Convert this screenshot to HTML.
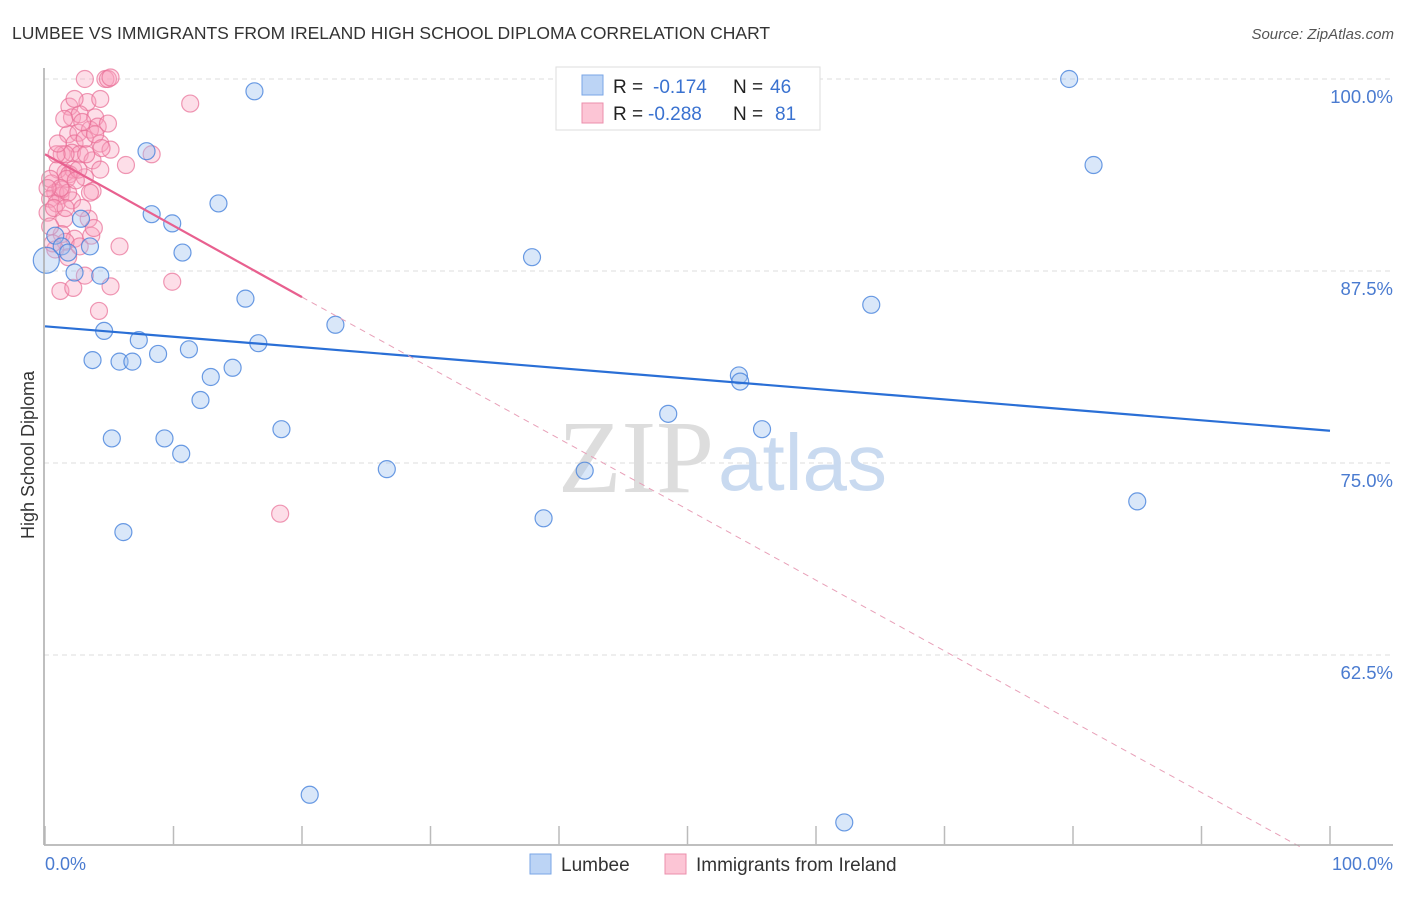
<!DOCTYPE html>
<html><head><meta charset="utf-8"><style>
body{margin:0;background:#fff;font-family:"Liberation Sans",sans-serif;}
svg text{font-family:"Liberation Sans",sans-serif;}
</style></head><body>
<svg width="1406" height="892" viewBox="0 0 1406 892" xmlns="http://www.w3.org/2000/svg">
<text x="12" y="39" font-size="17.5" fill="#333">LUMBEE VS IMMIGRANTS FROM IRELAND HIGH SCHOOL DIPLOMA CORRELATION CHART</text>
<text x="1394" y="39" font-size="15" fill="#555" font-style="italic" text-anchor="end">Source: ZipAtlas.com</text>
<g id="grid"></g>
<text x="714" y="492" font-size="104" fill="#ddd" text-anchor="end" style="font-family:'Liberation Serif',serif">ZIP</text>
<text x="718" y="490" font-size="80" fill="#c9daf0">atlas</text>
<g id="pts"></g>
<g id="trend"></g>
<line x1="44" y1="68" x2="44" y2="845" stroke="#aaa" stroke-width="1.5"/>
<line x1="44" y1="845" x2="1393" y2="845" stroke="#aaa" stroke-width="1.5"/>
<g id="xt"></g>
<text x="45" y="870" font-size="18" fill="#4a7bd0">0.0%</text>
<text x="1393" y="870" font-size="18" fill="#4a7bd0" text-anchor="end">100.0%</text>
<text x="34" y="455" font-size="18" fill="#333" text-anchor="middle" transform="rotate(-90 34 455)">High School Diploma</text>
<g>
<rect x="556" y="67" width="264" height="63" fill="#fff" stroke="#ddd"/>
<rect x="582" y="75" width="21" height="20" fill="#bcd4f5" stroke="#7aa6e6"/>
<rect x="582" y="103" width="21" height="20" fill="#fcc5d5" stroke="#eb8fac"/>
<text x="613" y="93" font-size="19" fill="#222">R = </text><text x="653" y="93" font-size="19" fill="#3a72d0">-0.174</text>
<text x="733" y="93" font-size="19" fill="#222">N = </text><text x="770" y="93" font-size="19" fill="#3a72d0">46</text>
<text x="613" y="120" font-size="19" fill="#222">R = </text><text x="648" y="120" font-size="19" fill="#3a72d0">-0.288</text>
<text x="733" y="120" font-size="19" fill="#222">N = </text><text x="775" y="120" font-size="19" fill="#3a72d0">81</text>
</g>
<g><rect x="530" y="854" width="21" height="20" fill="#bcd4f5" stroke="#7aa6e6"/><text x="561" y="871" font-size="19" fill="#333">Lumbee</text></g>
<g><rect x="665" y="854" width="21" height="20" fill="#fcc5d5" stroke="#eb8fac"/><text x="696" y="871" font-size="19" fill="#333">Immigrants from Ireland</text></g>
</svg>
<script>
const yTicks=[100,87.5,75,62.5];
const yTickLabels=["100.0%","87.5%","75.0%","62.5%"];
const xTicks=[0,10,20,30,40,50,60,70,80,90,100];
const lumbeeX=[16.3,79.7,81.6,7.9,8.3,13.5,9.9,2.8,0.8,1.3,3.5,1.8,10.7,0.1,2.3,4.3,37.9,15.6,64.3,22.6,4.6,7.3,16.6,11.2,3.7,5.8,6.8,8.8,14.6,12.9,54.0,54.1,12.1,48.5,18.4,55.8,5.2,9.3,10.6,26.6,42.0,85.0,38.8,6.1,20.6,62.2];
const lumbeeY=[99.2,100,94.4,95.3,91.2,91.9,90.6,90.9,89.8,89.1,89.1,88.7,88.7,88.2,87.4,87.2,88.4,85.7,85.3,84.0,83.6,83.0,82.8,82.4,81.7,81.6,81.6,82.1,81.2,80.6,80.7,80.3,79.1,78.2,77.2,77.2,76.6,76.6,75.6,74.6,74.5,72.5,71.4,70.5,53.4,51.6];
const irelandX=[3.1,4.7,4.9,11.3,1.9,3.3,4.3,2.1,2.7,3.9,1.8,2.6,3.5,4.1,4.9,2.3,3.1,4.3,5.1,1.3,2.1,2.7,3.7,6.3,8.3,1.6,2.2,1.0,1.9,3.1,3.7,0.5,0.8,1.2,1.3,0.4,0.9,0.2,0.7,1.5,3.4,1.3,2.3,3.6,1.6,5.8,0.8,3.1,1.2,2.2,5.1,9.9,4.2,18.3,0.4,1.7,2.6,1.6,2.9,3.9,3.2,0.9,2.1,0.4,1.8,3.5,0.6,2.4,4.3,1.2,3.8,2.9,1.5,2.3,5.1,1.0,0.2,1.8,2.7,4.4,1.6];
const irelandY=[100,100,100,98.4,98.2,98.5,98.7,97.5,97.7,97.5,96.4,96.5,96.7,96.9,97.1,95.8,96.1,95.8,95.4,95.1,95.2,95.1,94.7,94.4,95.1,93.9,94.1,94.1,93.8,93.6,92.7,93.2,92.6,92.4,92.8,92.2,91.9,91.3,91.6,90.9,90.9,89.9,89.6,89.8,89.4,89.1,88.9,87.2,86.2,86.4,86.5,86.8,84.9,71.7,93.5,93.5,94.1,95.1,97.2,96.4,95.1,95.1,92.1,90.4,92.6,92.6,89.3,93.4,94.1,92.9,90.3,91.6,97.4,98.7,100.1,95.8,92.9,88.4,89.1,95.5,91.6];
const blueTrend=[[0,83.9],[100,77.1]];
const pinkTrend=[[0,95.1],[20,85.8],[97.7,50.0]];
const X=v=>45+v*12.85, Y=v=>79+(100-v)*15.36;
const NS="http://www.w3.org/2000/svg";
function mk(t,a,p){const e=document.createElementNS(NS,t);for(const k in a)e.setAttribute(k,a[k]);p.appendChild(e);return e;}
const grid=document.getElementById('grid');
yTicks.forEach((t,i)=>{
 const l=mk('line',{x1:44,x2:1393,y1:Y(t),y2:Y(t),stroke:'#ddd','stroke-dasharray':'5,4'},grid);
 
 
 const tx=mk('text',{x:1393,y:Y(t)+24,'font-size':18.5,fill:'#4a7bd0','text-anchor':'end'},grid);
 tx.textContent=yTickLabels[i];
 
 
});
const xt=document.getElementById('xt');
xTicks.forEach(t=>{
 const l=mk('line',{x1:X(t),x2:X(t),y1:826,y2:845,stroke:'#bbb','stroke-width':1.5},xt);
 
 
});
const pts=document.getElementById('pts');
irelandX.forEach((x,i)=>{
 const c=mk('circle',{cx:X(x),cy:Y(irelandY[i]),r:8.5,fill:'rgba(248,160,188,0.35)',stroke:'rgba(232,110,150,0.7)','stroke-width':1.2},pts);
 
 
});
lumbeeX.forEach((x,i)=>{
 const c=mk('circle',{cx:X(x),cy:Y(lumbeeY[i]),r:i==13?13:8.5,fill:'rgba(160,195,240,0.4)',stroke:'rgba(70,130,220,0.8)','stroke-width':1.2},pts);
 
 
});
const tr=document.getElementById('trend');
let b=mk('line',{x1:X(blueTrend[0][0]),y1:Y(blueTrend[0][1]),x2:X(blueTrend[1][0]),y2:Y(blueTrend[1][1]),stroke:'#2a6fd6','stroke-width':2.2},tr);


let p=mk('line',{x1:X(pinkTrend[0][0]),y1:Y(pinkTrend[0][1]),x2:X(pinkTrend[1][0]),y2:Y(pinkTrend[1][1]),stroke:'#e8608f','stroke-width':2.2},tr);


let pd=mk('line',{x1:X(pinkTrend[1][0]),y1:Y(pinkTrend[1][1]),x2:X(pinkTrend[2][0]),y2:Y(pinkTrend[2][1]),stroke:'#e8a0b8','stroke-width':1,'stroke-dasharray':'6,5'},tr);


</script>
</body></html>
